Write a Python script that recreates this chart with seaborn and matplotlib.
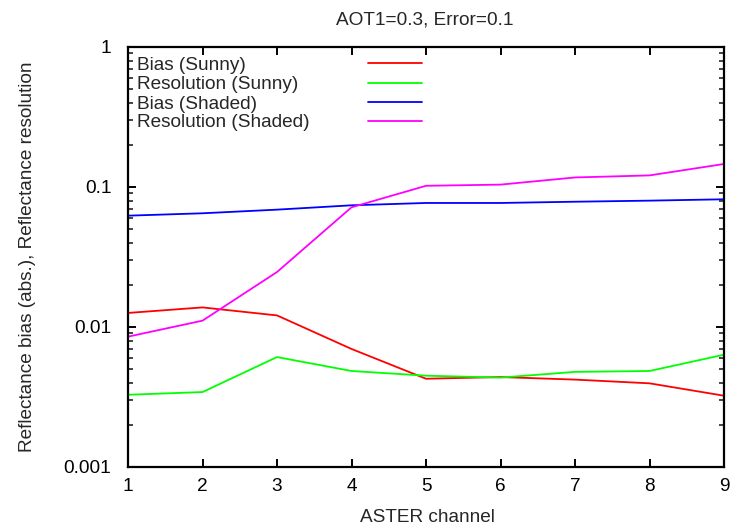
import numpy as np
import pandas as pd
import matplotlib
matplotlib.use("Agg")
import matplotlib.pyplot as plt
from matplotlib.ticker import FixedLocator, FixedFormatter, LogLocator, NullFormatter
import seaborn as sns

channels = [1, 2, 3, 4, 5, 6, 7, 8, 9]
bias_sunny = [0.0126, 0.0138, 0.0121, 0.00697, 0.00427, 0.00439, 0.00421, 0.00396, 0.00323]
res_sunny = [0.00328, 0.00343, 0.0061, 0.00485, 0.00449, 0.00435, 0.00478, 0.00485, 0.00634]
bias_shaded = [0.0624, 0.0649, 0.0689, 0.074, 0.0769, 0.0769, 0.0785, 0.0799, 0.0817]
res_shaded = [0.00853, 0.0111, 0.0247, 0.0716, 0.102, 0.104, 0.117, 0.121, 0.146]
series_names = ["Bias (Sunny)", "Resolution (Sunny)", "Bias (Shaded)", "Resolution (Shaded)"]
series_colors = ["#ff0000", "#00ff00", "#0000ff", "#ff00ff"]
ytick_vals = [0.001, 0.01, 0.1, 1]
ytick_labels = ["0.001", "0.01", "0.1", "1"]

rows = []
for name, vals in zip(series_names, [bias_sunny, res_sunny, bias_shaded, res_shaded]):
    for c, v in zip(channels, vals):
        rows.append({"channel": c, "value": v, "series": name})
df = pd.DataFrame(rows)

FS = 13.7
sns.set_style("ticks")
plt.rcParams["font.family"] = ["Liberation Sans", "DejaVu Sans"]
plt.rcParams["font.size"] = FS

fig = plt.figure(figsize=(7.36, 5.27), dpi=100)
ax = fig.add_axes([128/736, 1-467/527, 596/736, 420/527])

sns.lineplot(data=df, x="channel", y="value", hue="series", hue_order=series_names,
             palette=series_colors, linewidth=1.3, legend=False, ax=ax)

ax.set_yscale("log")
ax.set_ylim(0.001, 1)
ax.set_xlim(1, 9)
ax.yaxis.set_major_locator(FixedLocator(ytick_vals))
ax.yaxis.set_major_formatter(FixedFormatter(ytick_labels))
ax.yaxis.set_minor_locator(LogLocator(base=10, subs=np.arange(2, 10)))
ax.yaxis.set_minor_formatter(NullFormatter())
ax.set_xticks(channels)
ax.set_xticklabels([str(c) for c in channels])

for s in ax.spines.values():
    s.set_linewidth(1.6)
    s.set_color("black")
ax.tick_params(which="major", direction="in", length=6, width=1.4, top=True, right=True,
               labelsize=FS, colors="black")
ax.tick_params(which="minor", direction="in", length=3.5, width=1.2, top=True, right=True)
ax.tick_params(axis="y", which="major", pad=12)
ax.tick_params(axis="x", which="major", pad=8)

ax.set_xlabel("ASTER channel", fontsize=FS, va="baseline")
ax.xaxis.set_label_coords(0.5025, -0.131)
ax.set_ylabel("Reflectance bias (abs.), Reflectance resolution", fontsize=FS, va="baseline")
ax.yaxis.set_label_coords(-0.161, 0.501)
ax.text(0.498, 1.054, "AOT1=0.3, Error=0.1", transform=ax.transAxes, ha="center",
        va="baseline", fontsize=FS)

# gnuplot-style key: text left, sample line right
ys = [0.961, 0.915, 0.869, 0.8245]
for name, col, yy in zip(series_names, series_colors, ys):
    ax.text(0.0151, yy - 0.005, name, transform=ax.transAxes, ha="left", va="center", fontsize=FS)
    ax.plot([0.4027, 0.4928], [yy, yy], transform=ax.transAxes, color=col, linewidth=1.3)

fig.savefig("out.png", dpi=100)
